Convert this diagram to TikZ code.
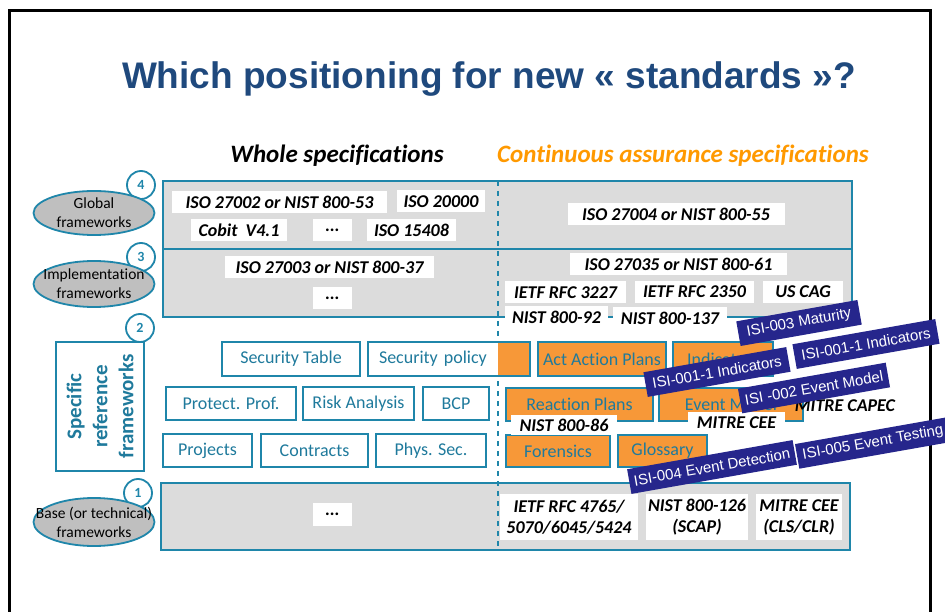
\documentclass[tikz,border=0pt]{standalone}
\usepackage{fontspec}
\setmainfont{Carlito}[Ligatures=NoCommon]
\newfontfamily\arialfont{Liberation Sans}
\usetikzlibrary{shapes.geometric}
\definecolor{frameteal}{RGB}{31,134,170}
\definecolor{textteal}{RGB}{31,122,156}
\definecolor{panelgray}{RGB}{220,220,220}
\definecolor{ellgray}{RGB}{191,191,191}
\definecolor{boxorange}{RGB}{247,152,56}
\definecolor{headorange}{RGB}{255,153,0}
\definecolor{isiblue}{RGB}{38,38,140}
\definecolor{titleblue}{RGB}{31,73,125}
\begin{document}
\begin{tikzpicture}[x=1pt, y=-1pt,
    gbox/.style={draw=frameteal, line width=2pt, fill=panelgray, inner sep=0pt, minimum width=689pt},
    wlbl/.style={fill=white, inner sep=0pt, minimum height=22pt, font=\fontsize{18}{21}\selectfont\bfseries\itshape},
    tbox/.style={draw=frameteal, line width=1.8pt, fill=white, text=textteal, inner sep=0pt, minimum height=33pt, font=\fontsize{18}{21}\selectfont},
    obox/.style={tbox, fill=boxorange},
    numc/.style={circle, draw=frameteal, line width=1.8pt, fill=white, text=frameteal, minimum size=28pt, inner sep=0pt, font=\fontsize{14}{16}\selectfont\bfseries},
    lvl/.style={ellipse, draw=frameteal, line width=1.8pt, fill=ellgray, minimum width=121pt, minimum height=44pt, inner sep=0pt},
    lvltext/.style={align=center, inner sep=0pt, font=\fontsize{15.5}{19}\selectfont},
    isi/.style={fill=isiblue, text=white, rotate=10, inner sep=0pt, minimum height=25pt, font=\arialfont\fontsize{15}{17}\selectfont}]
    \useasboundingbox (0,0) rectangle (945,612);
    \draw[line width=3pt] (9,640) -- (9,11) -- (930,11) -- (930,640);
    \node[anchor=base, text=titleblue, font=\arialfont\bfseries\fontsize{37}{44}\selectfont] (title) at (489,89) {Which positioning for new « standards »?};
    \node[anchor=base, font=\fontsize{25}{30}\selectfont\bfseries\itshape] (whole) at (337,163) {Whole specifications};
    \node[anchor=base, text=headorange, font=\fontsize{25}{30}\selectfont\bfseries\itshape] (cont) at (683,163) {Continuous assurance specifications};

    \node[gbox, minimum height=68pt] (row4) at (507.5,215) {};
    \node[gbox, minimum height=68pt] (row3) at (507.5,283) {};
    \node[gbox, minimum height=67pt] (row1) at (505.5,516.5) {};
    \coordinate (dtop) at (498,181);
    \coordinate (dbot) at (498,550);
    \draw[frameteal, line width=1.5pt, dash pattern=on 5pt off 5pt] (dtop) -- (dbot);

    \node[numc] (n4) at (141,185) {4};
    \node[numc] (n3) at (141,257) {3};
    \node[numc] (n2) at (140,328) {2};
    \node[numc] (n1) at (138,493) {1};
    \node[lvl, label={[lvltext]center:Global\\frameworks}] (global) at (94,213) {};
    \node[lvl, minimum height=46pt, label={[lvltext]center:Implementation\\frameworks}] (impl) at (94,284) {};
    \node[lvl, minimum height=48pt, label={[lvltext]center:Base (or technical)\\frameworks}] (base) at (94,522) {};
    \node[draw=frameteal, line width=1.8pt, fill=white, text=textteal, rotate=90, minimum width=129pt, minimum height=88pt, inner sep=0pt, align=center, font=\fontsize{21}{26}\selectfont\bfseries] (specific) at (100,406.5) {Specific\\reference\\frameworks};

    \node[wlbl, minimum width=215pt] (iso27002) at (279.5,202) {ISO 27002 or NIST 800-53};
    \node[wlbl, minimum width=88pt] (iso20000) at (441,201.5) {ISO 20000};
    \node[wlbl, minimum width=96pt] (cobit) at (239,230.5) {Cobit~~V4.1};
    \node[wlbl, minimum width=39pt] (dots4) at (332.5,230.5) {...};
    \node[wlbl, minimum width=89pt] (iso15408) at (411.5,230.5) {ISO 15408};
    \node[wlbl, minimum width=217pt] (iso27004) at (676,214) {ISO 27004 or NIST 800-55};
    \node[wlbl, minimum width=209pt] (iso27003) at (329.5,267.5) {ISO 27003 or NIST 800-37};
    \node[wlbl, minimum width=39pt] (dots3) at (332.5,298) {...};
    \node[wlbl, minimum width=217pt] (iso27035) at (678.5,264) {ISO 27035 or NIST 800-61};
    \node[wlbl, minimum width=121pt] (rfc3227) at (565.5,292.5) {IETF RFC 3227};
    \node[wlbl, minimum width=119pt] (rfc2350) at (694.5,292) {IETF RFC 2350};
    \node[wlbl, minimum width=80pt] (uscag) at (803,292) {US CAG};
    \node[wlbl, minimum width=103pt] (nist92) at (556.5,317.5) {NIST 800-92};
    \node[wlbl, minimum width=114pt] (nist137) at (670,318) {NIST 800-137};

    \node[tbox, minimum width=138pt, minimum height=34pt] (sectable) at (291,359) {Security Table};
    \node[tbox, minimum width=162pt, minimum height=34pt, inner xsep=11pt, text width=140pt, align=left,
        path picture={\fill[boxorange] ([xshift=-32pt]path picture bounding box.north east) rectangle (path picture bounding box.south east);}] (secpol) at (449,359) {Security policy};
    \node[tbox, minimum width=130pt] (protect) at (231,403.5) {Protect. Prof.};
    \node[tbox, minimum width=111pt] (risk) at (358.5,403.5) {Risk Analysis};
    \node[tbox, minimum width=66pt] (bcp) at (456,403.5) {BCP};
    \node[tbox, minimum width=89pt] (projects) at (207.5,450.5) {Projects};
    \node[tbox, minimum width=107pt] (contracts) at (314.5,450.5) {Contracts};
    \node[tbox, minimum width=110pt] (physsec) at (431,450.5) {Phys. Sec.};

    \node[obox, minimum width=128pt, minimum height=34pt] (actplans) at (602,359) {Act Action Plans};
    \node[obox, minimum width=100pt, minimum height=34pt] (indicators) at (723,359) {Indicators};
    \node[obox, minimum width=147pt] (reaction) at (579.5,404.5) {Reaction Plans};
    \node[obox, minimum width=144pt] (eventmodel) at (731,404.5) {Event Model};
    \node[obox, minimum width=104pt, minimum height=32pt] (forensics) at (558,451) {Forensics};
    \node[obox, minimum width=89pt, minimum height=32pt] (glossary) at (662.5,451) {Glossary};
    \node[wlbl, minimum width=106pt, minimum height=20pt] (nist86) at (564,425) {NIST 800-86};
    \node[wlbl, minimum width=97pt, minimum height=21pt] (mitrecee) at (736.5,422.5) {MITRE CEE};
    \node[wlbl, fill=none] (capec) at (845,406) {MITRE CAPEC};

    \node[wlbl, minimum width=39pt, minimum height=23pt] (dots1) at (332.5,514.5) {...};
    \node[wlbl, minimum width=138pt, minimum height=46pt, align=center] (rfc4765) at (569,517) {IETF RFC 4765/\\5070/6045/5424};
    \node[wlbl, minimum width=102pt, minimum height=46pt, align=center] (nist126) at (697,517) {NIST 800-126\\(SCAP)};
    \node[wlbl, minimum width=86pt, minimum height=46pt, align=center] (mitrecls) at (799,517) {MITRE CEE\\(CLS/CLR)};

    \node[isi, minimum width=123pt] (isi003) at (799,323) {ISI-003 Maturity};
    \node[isi, minimum width=145pt] (isi001b) at (866,344) {ISI-001-1 Indicators};
    \node[isi, minimum width=145pt] (isi001a) at (717,372) {ISI-001-1 Indicators};
    \node[isi, minimum width=150pt] (isi002) at (814,388) {ISI -002 Event Model};
    \node[isi, minimum width=168pt] (isi004) at (712,467) {ISI-004 Event Detection};
    \node[isi, minimum width=154pt] (isi005) at (873,443) {ISI-005 Event Testing};
\end{tikzpicture}
\end{document}
